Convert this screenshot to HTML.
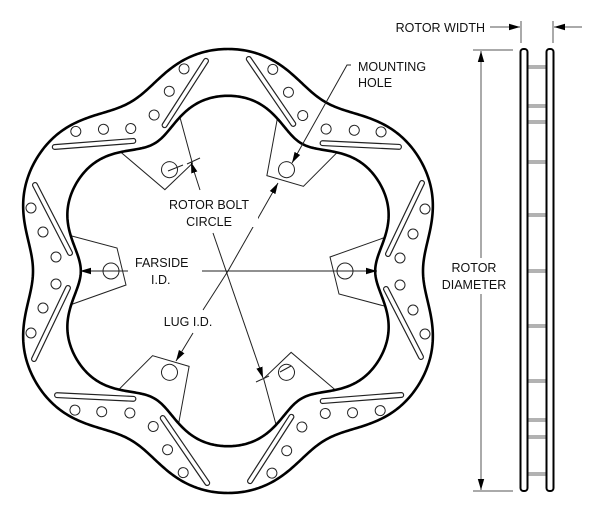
<!DOCTYPE html>
<html><head><meta charset="utf-8"><style>
html,body{margin:0;padding:0;background:#fff}
svg{display:block}
text{font-family:"Liberation Sans",Arial,sans-serif;font-size:12.5px;fill:#111}
</style></head><body>
<svg id="s" width="600" height="513" viewBox="0 0 600 513" xmlns="http://www.w3.org/2000/svg">
<defs>
<marker id="a" markerWidth="12" markerHeight="8" refX="11" refY="4" orient="auto" markerUnits="userSpaceOnUse">
<path d="M0,0.8 L11,4 L0,7.2 Z" fill="#000"/></marker>
</defs>
<g id="tabs" fill="#fff" stroke="#222" stroke-width="1"></g>
<path id="ring" fill="#fff" fill-rule="evenodd" stroke="#000" stroke-width="2.6"></path>
<g id="feat"></g>
<g id="holes" fill="#fff" stroke="#222" stroke-width="1"></g>

<g stroke="#222" stroke-width="1" fill="none">
<line x1="128" y1="271" x2="80" y2="271" marker-end="url(#a)"/>
<line x1="202" y1="271" x2="377" y2="271" marker-end="url(#a)"/>
<line x1="200" y1="190" x2="191" y2="162" marker-end="url(#a)"/>
<line x1="213" y1="233" x2="263" y2="378" marker-end="url(#a)"/>
<line x1="187" y1="164" x2="200" y2="158"/>
<line x1="168" y1="171" x2="183" y2="165"/>
<line x1="256" y1="382" x2="269" y2="376"/>
<line x1="280" y1="372" x2="291" y2="366"/>
<line x1="228" y1="271" x2="278" y2="183" marker-end="url(#a)"/>
<line x1="228" y1="271" x2="203" y2="310"/>
<line x1="193" y1="333" x2="176" y2="361" marker-end="url(#a)"/>
<polyline points="351,65 347,65 292,163" marker-end="url(#a)"/>
</g>
<g fill="#fff"><rect x="160" y="195" width="98" height="32"/></g>
<text x="209" y="209" text-anchor="middle">ROTOR BOLT</text>
<text x="209" y="226" text-anchor="middle">CIRCLE</text>
<text x="135" y="267">FARSIDE</text>
<text x="151" y="284">I.D.</text>
<text x="188" y="326" text-anchor="middle">LUG I.D.</text>
<text x="358" y="71">MOUNTING</text>
<text x="358" y="87">HOLE</text>

<g stroke="#555" stroke-width="1" fill="none">
<line x1="490" y1="27" x2="520" y2="27" marker-end="url(#a)"/>
<line x1="582" y1="27" x2="554" y2="27" marker-end="url(#a)"/>
<line x1="521" y1="21" x2="521" y2="43"/>
<line x1="553" y1="21" x2="553" y2="43"/>
<line x1="473" y1="50" x2="513" y2="50"/>
<line x1="473" y1="491" x2="513" y2="491"/>
<line x1="481" y1="258" x2="481" y2="51" marker-end="url(#a)"/>
<line x1="481" y1="294" x2="481" y2="490" marker-end="url(#a)"/>
</g>
<text x="485" y="32" text-anchor="end">ROTOR WIDTH</text>
<text x="474" y="272" text-anchor="middle">ROTOR</text>
<text x="474" y="289" text-anchor="middle">DIAMETER</text>
<g id="vanes" stroke="#666" stroke-width="1"></g>
<g fill="#fff" stroke="#000" stroke-width="2">
<rect x="520.5" y="49" width="7" height="442" rx="3"/>
<rect x="546.5" y="49" width="7" height="442" rx="3"/>
</g>
</svg>
<script>
var NS="http://www.w3.org/2000/svg",cx=228,cy=271;
function el(p,t,a){var e=document.createElementNS(NS,t);for(var k in a)e.setAttribute(k,a[k]);document.getElementById(p).appendChild(e);return e;}
function contour(R0,a1,a2){var d="";for(var i=0;i<=720;i++){var t=i*Math.PI/360;var ph=t-Math.PI/2;var r=R0+a1*Math.cos(6*ph)+a2*Math.cos(12*ph);var x=cx+r*Math.cos(t),y=cy-r*Math.sin(t);d+=(i?"L":"M")+x.toFixed(2)+","+y.toFixed(2);}return d+"Z";}
document.getElementById("ring").setAttribute("d",contour(210,13.5,-1.5)+contour(163,14,-1.8));
for(var k=0;k<6;k++){
 var rot="rotate("+(k*60)+" "+cx+" "+cy+")";
 var P=[[-175,-40],[-111,-23],[-102,14],[-175,40]];
 el("tabs","polygon",{points:P.map(function(p){return (cx+p[0])+","+(cy+p[1]);}).join(" "),transform:rot});
 el("holes","circle",{cx:cx-117,cy:cy,r:8,transform:rot});
 var S=[[[-193,-86],[-158,-18]],[[-160,17],[-194,88]]];
 S.forEach(function(s){
  el("feat","line",{x1:cx+s[0][0],y1:cy+s[0][1],x2:cx+s[1][0],y2:cy+s[1][1],stroke:"#222","stroke-width":6,"stroke-linecap":"round",transform:rot});
  el("feat","line",{x1:cx+s[0][0],y1:cy+s[0][1],x2:cx+s[1][0],y2:cy+s[1][1],stroke:"#fff","stroke-width":3.6,"stroke-linecap":"round",transform:rot});
 });
 [[-197,-63],[-185,-39],[-172,-14],[-172,13],[-185,37],[-197,62]].forEach(function(h){
  el("feat","circle",{cx:cx+h[0],cy:cy+h[1],r:5,fill:"#fff",stroke:"#222","stroke-width":1,transform:rot});
 });
}
[66,105,121,161,214,270,325,380,419,436,473].forEach(function(y){el("vanes","line",{x1:527,y1:y,x2:547,y2:y});el("vanes","line",{x1:527,y1:y+2,x2:547,y2:y+2});});
</script>
</body></html>
